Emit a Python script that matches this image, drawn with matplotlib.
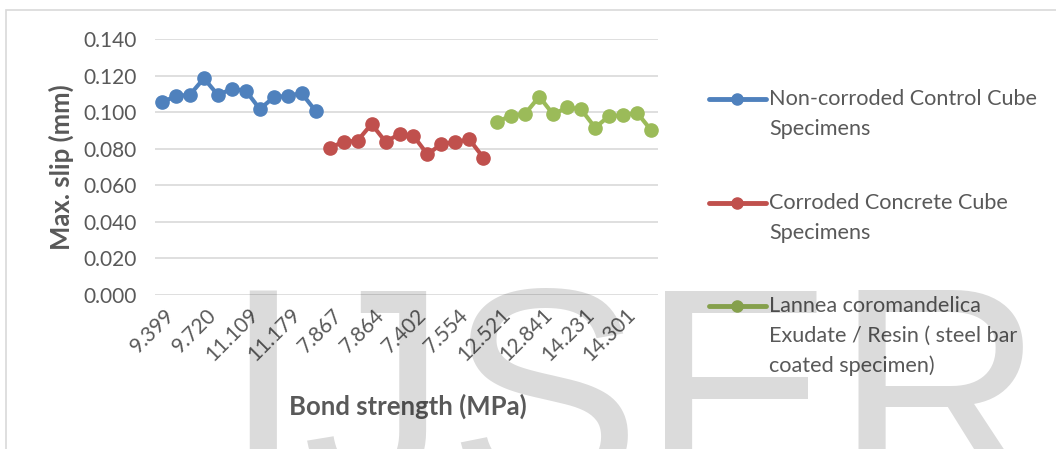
import numpy as np
import matplotlib
from matplotlib import pyplot as plt
from matplotlib.lines import Line2D
from matplotlib.patches import Rectangle
from matplotlib.transforms import ScaledTranslation

matplotlib.use('Agg')

# max. slip (mm) for each specimen group, 12 bond tests each
non_corroded = [0.1054, 0.1088, 0.1095, 0.1185, 0.1094, 0.1127, 0.1117, 0.1017, 0.1081, 0.1090, 0.1103, 0.1006]
corroded = [0.0806, 0.0837, 0.0844, 0.0935, 0.0838, 0.0880, 0.0870, 0.0769, 0.0826, 0.0837, 0.0851, 0.0751]
coated = [0.0948, 0.0981, 0.0992, 0.1085, 0.0988, 0.1026, 0.1015, 0.0915, 0.0979, 0.0983, 0.0997, 0.0902]

# bond strength (MPa) labels, every third category is labelled on the axis
bond_labels = ['9.399', '9.720', '11.109', '11.179', '7.867', '7.864', '7.402', '7.554',
               '12.521', '12.841', '14.231', '14.301']

series_names = ['Non-corroded Control Cube\nSpecimens',
                'Corroded Concrete Cube\nSpecimens',
                'Lannea coromandelica\nExudate / Resin ( steel bar\ncoated specimen)']
series_colors = ['#4f81bd', '#c0504d', '#9bbb59']

W, H = 1056, 449
txt = '#595959'
grid = '#d9d9d9'

plt.rcParams['font.family'] = 'Lato'


def fx(px):
    return px / W


def fy(py):
    return 1 - py / H


fig = plt.figure(figsize=(W / 100, H / 100), dpi=100)
ax = fig.add_axes([fx(155), fy(295), fx(658) - fx(155), fy(39) - fy(295)])
ax.patch.set_alpha(0)

# chart frame
fig.add_artist(Rectangle((fx(6), fy(470)), fx(1100), fy(10) - fy(470), transform=fig.transFigure,
                         fill=False, edgecolor=grid, linewidth=1.2, clip_on=False))

n = len(non_corroded)
all_series = [non_corroded, corroded, coated]
for i, vals in enumerate(all_series):
    x = np.arange(n) + i * n
    ax.plot(x, vals, '-o', color=series_colors[i], linewidth=3, markersize=9.5, zorder=3)

ax.set_xlim(-0.5, 3 * n - 0.5)
ax.set_ylim(0, 0.14)
ax.set_yticks(np.arange(0, 0.141, 0.02))
ax.set_yticklabels(['%.3f' % v for v in np.arange(0, 0.141, 0.02)])
ax.set_xticks(np.arange(0, 3 * n, 3))
ax.set_xticklabels(bond_labels)
ax.grid(axis='y', color=grid, linewidth=1.2)
ax.set_axisbelow(True)
for s in ax.spines.values():
    s.set_visible(False)
ax.tick_params(axis='y', length=0, pad=13, labelsize=15, labelcolor=txt)
ax.tick_params(axis='x', length=0, pad=12, labelsize=15, labelcolor=txt)
shift = ScaledTranslation(7 / 72, 0, fig.dpi_scale_trans)
for lab in ax.get_xticklabels():
    lab.set_rotation(45)
    lab.set_ha('right')
    lab.set_va('center')
    lab.set_rotation_mode('anchor')
    lab.set_transform(lab.get_transform() + shift)

ax.set_ylabel('Max. slip (mm)', fontsize=18.5, fontweight='bold', color=txt, va='center')
ax.yaxis.set_label_coords((61 - 155) / 503, 0.5)
ax.set_xlabel('Bond strength (MPa)', fontsize=18.5, fontweight='bold', color=txt, va='center')
ax.xaxis.set_label_coords((408 - 155) / 503, (295 - 406) / 256)

# legend on the right, drawn by hand so the wrapped labels sit like the original
legend_y = [99, 203, 306]
for i, name in enumerate(series_names):
    y = fy(legend_y[i])
    fig.add_artist(Line2D([fx(709), fx(737), fx(766)], [y, y, y], transform=fig.transFigure,
                          color=series_colors[i], linewidth=3.5, marker='o', markersize=8,
                          markevery=[1], solid_capstyle='round'))
    for j, line in enumerate(name.split('\n')):
        fig.text(fx(769), fy(legend_y[i] + 30 * j), line, fontsize=15.6, color=txt,
                 ha='left', va='center')

# journal watermark over the chart
fig.text(fx(222), fy(490), 'IJSER', family='Liberation Sans', fontsize=209,
         color='k', alpha=0.14, ha='left', va='baseline', zorder=10)

plt.savefig('out.png', dpi=100)
plt.close()
